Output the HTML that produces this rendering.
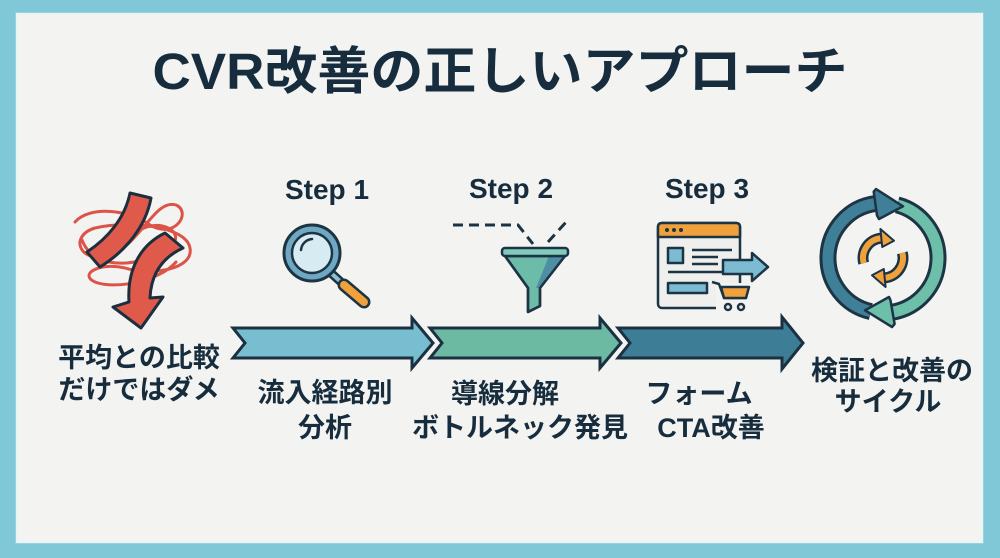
<!DOCTYPE html>
<html><head><meta charset="utf-8"><style>
html,body{margin:0;padding:0;background:#80c8d7;}
svg{display:block;}
text{font-family:"Liberation Sans","Noto Sans CJK JP",sans-serif;font-weight:bold;fill:#172d3d;}
</style></head><body>
<svg width="1000" height="558" viewBox="0 0 1000 558" xmlns="http://www.w3.org/2000/svg">
<rect x="0" y="0" width="1000" height="558" fill="#80c8d7"/>
<rect x="16" y="13" width="967" height="530" fill="#f3f4f2"/>
<rect x="16.5" y="13.5" width="966" height="529" fill="none" stroke="#e6f4f6" stroke-width="1.5"/>

<!-- Title -->
<text x="500" y="89" font-size="51" text-anchor="middle" textLength="695" lengthAdjust="spacingAndGlyphs">CVR改善の正しいアプローチ</text>

<!-- Step labels -->
<text x="327" y="199" font-size="28" text-anchor="middle">Step 1</text>
<text x="511" y="198" font-size="28" text-anchor="middle">Step 2</text>
<text x="707" y="198" font-size="28" text-anchor="middle">Step 3</text>

<!-- Red tangle icon -->
<g fill="none" stroke="#dc5447" stroke-width="3" stroke-linecap="round">
<path d="M75,222 C90,205 130,210 150,225 C175,240 192,212 176,205 C155,198 140,245 110,255 C80,265 68,236 95,228 C130,220 186,226 190,248 C194,270 150,276 125,268 C100,262 78,274 95,282 C115,290 160,281 176,262"/>
<path d="M82,240 C95,275 150,265 172,245 C185,232 160,218 140,230"/>
</g>
<g stroke="#1d2f3f" stroke-width="3" stroke-linejoin="round" fill="#e05a4b">
<path d="M130,193 L151,198 C146,226 126,251 100,267 L87,252 C108,238 125,218 130,193 Z"/>
<path d="M165,233 L183,248 C161,258 151,275 150,298 L163,297 L141,328 L113,307 L129,302 C127,270 140,245 165,233 Z"/>
</g>

<!-- Magnifier -->
<line x1="331" y1="273" x2="342" y2="283" stroke="#1d3444" stroke-width="9"/>
<line x1="331" y1="273" x2="342" y2="283" stroke="#8fc0cf" stroke-width="4"/>
<line x1="344" y1="285" x2="364" y2="302" stroke="#1d3444" stroke-width="13" stroke-linecap="round"/>
<line x1="344" y1="285" x2="364" y2="302" stroke="#f0a13c" stroke-width="8" stroke-linecap="round"/>
<circle cx="312" cy="253" r="28" fill="#6fa8c2" stroke="#1d3444" stroke-width="3"/>
<circle cx="312" cy="253" r="20" fill="#d6ebf2" stroke="#1d3444" stroke-width="2.5"/>
<path d="M301,250 A12,12 0 0 1 312,239" fill="none" stroke="#1d3444" stroke-width="2.5" stroke-linecap="round"/>

<!-- Funnel -->
<g stroke="#1d3444" stroke-width="3" fill="none" stroke-dasharray="10 6">
<path d="M453,225 L518,225 L533,244"/>
<path d="M548,242 L567,221"/>
</g>
<g stroke="#1d3444" stroke-width="2.5" stroke-linejoin="round">
<path d="M505,256 L565,256 L540,288 L540,306 L528,312 L528,288 Z" fill="#6dbcaa"/>
<path d="M549,256 L565,256 L540,288 L536,288 Z" fill="#4f8fa5" stroke="none"/>
<path d="M505,256 L565,256 L540,288 L540,306 L528,312 L528,288 Z" fill="none"/>
<rect x="502" y="248" width="66" height="8" rx="3" fill="#80cbb9"/>
</g>

<!-- Browser -->
<g stroke="#1d3444" stroke-width="2.5" stroke-linejoin="round">
<rect x="658" y="223" width="82" height="85" rx="4" fill="#efefed"/>
<path d="M658,237 L658,227 Q658,223 662,223 L736,223 Q740,223 740,227 L740,237 Z" fill="#f0a13c"/>
<rect x="668" y="248" width="15" height="15" fill="#7bbcd3"/>
<rect x="668" y="283" width="39" height="10" fill="#7bbcd3"/>
<line x1="692" y1="250" x2="732" y2="250"/>
<line x1="692" y1="257" x2="718" y2="257"/>
<line x1="692" y1="264" x2="718" y2="264"/>
<line x1="668" y1="272" x2="722" y2="272"/>
<polygon points="723,260 752,260 752,253 768,267 752,281 752,274 723,274" fill="#7bbcd3"/>
<rect x="716" y="283" width="34" height="28" fill="#f3f4f2" stroke="none"/>
<path d="M712,282 L719,284 L724,298 L746,298" fill="none"/>
<polygon points="721,287 749,287 746,298 724,298" fill="#f0a13c"/>
<circle cx="728" cy="307" r="3" fill="#efefed"/>
<circle cx="741" cy="307" r="3" fill="#efefed"/>
</g>
<g fill="#1d3444"><circle cx="667" cy="230" r="2"/><circle cx="674" cy="230" r="2"/><circle cx="681" cy="230" r="2"/></g>

<!-- Cycle icon -->
<g fill="none" stroke-linecap="butt">
<path d="M870.8,311.6 A55,55 0 0 1 875.3,203.5" stroke="#1d3444" stroke-width="17"/>
<path d="M870.8,311.6 A55,55 0 0 1 875.3,203.5" stroke="#3f7f98" stroke-width="11"/>
<path d="M897.2,204.9 A55,55 0 0 1 892.6,312.2" stroke="#1d3444" stroke-width="17"/>
<path d="M897.2,204.9 A55,55 0 0 1 892.6,312.2" stroke="#6dbfaa" stroke-width="11"/>
</g>
<g stroke="#1d3444" stroke-width="2.5" stroke-linejoin="round">
<polygon points="877,215.4 873.7,191.7 876,189 903,206.3 879,219" fill="#3f7f98"/>
<polygon points="890.5,300.3 894.6,324 892,327 865,310.3 889,297" fill="#6dbfaa"/>
</g>
<g fill="none">
<path d="M863.7,263.2 A20,20 0 0 1 881.3,238.1" stroke="#1d3444" stroke-width="11"/>
<path d="M863.7,263.2 A20,20 0 0 1 881.3,238.1" stroke="#f0a13c" stroke-width="6"/>
<path d="M902.3,252.8 A20,20 0 0 1 884.7,277.9" stroke="#1d3444" stroke-width="11"/>
<path d="M902.3,252.8 A20,20 0 0 1 884.7,277.9" stroke="#f0a13c" stroke-width="6"/>
</g>
<g stroke="#1d3444" stroke-width="2" stroke-linejoin="round" fill="#f0a13c">
<polygon points="882.2,247 880.4,229 894,240.7"/>
<polygon points="883.8,269 885.6,287 872,275.3"/>
</g>

<!-- Process arrows -->
<g stroke="#1b3142" stroke-width="3" stroke-linejoin="miter">
<polygon points="233,328 412,328 412,318 433,343 412,368 412,358 233,358 245,343" fill="#79bdd0"/>
<polygon points="430,328 600,328 600,318 621,343 600,368 600,358 430,358 442,343" fill="#6dbaa3"/>
<polygon points="618,328 782,328 782,317 803,343 782,369 782,358 618,358 630,343" fill="#3d7d96"/>
</g>

<!-- Labels -->
<g font-size="27" text-anchor="middle">
<text x="139" y="367">平均との比較</text>
<text x="139" y="399">だけではダメ</text>
<text x="325" y="402">流入経路別</text>
<text x="325" y="437">分析</text>
<text x="505" y="403">導線分解</text>
<text x="520" y="437">ボトルネック発見</text>
<text x="699" y="403">フォーム</text>
<text x="711" y="437">CTA改善</text>
<text x="892" y="380">検証と改善の</text>
<text x="888" y="411">サイクル</text>
</g>
</svg>
</body></html>
